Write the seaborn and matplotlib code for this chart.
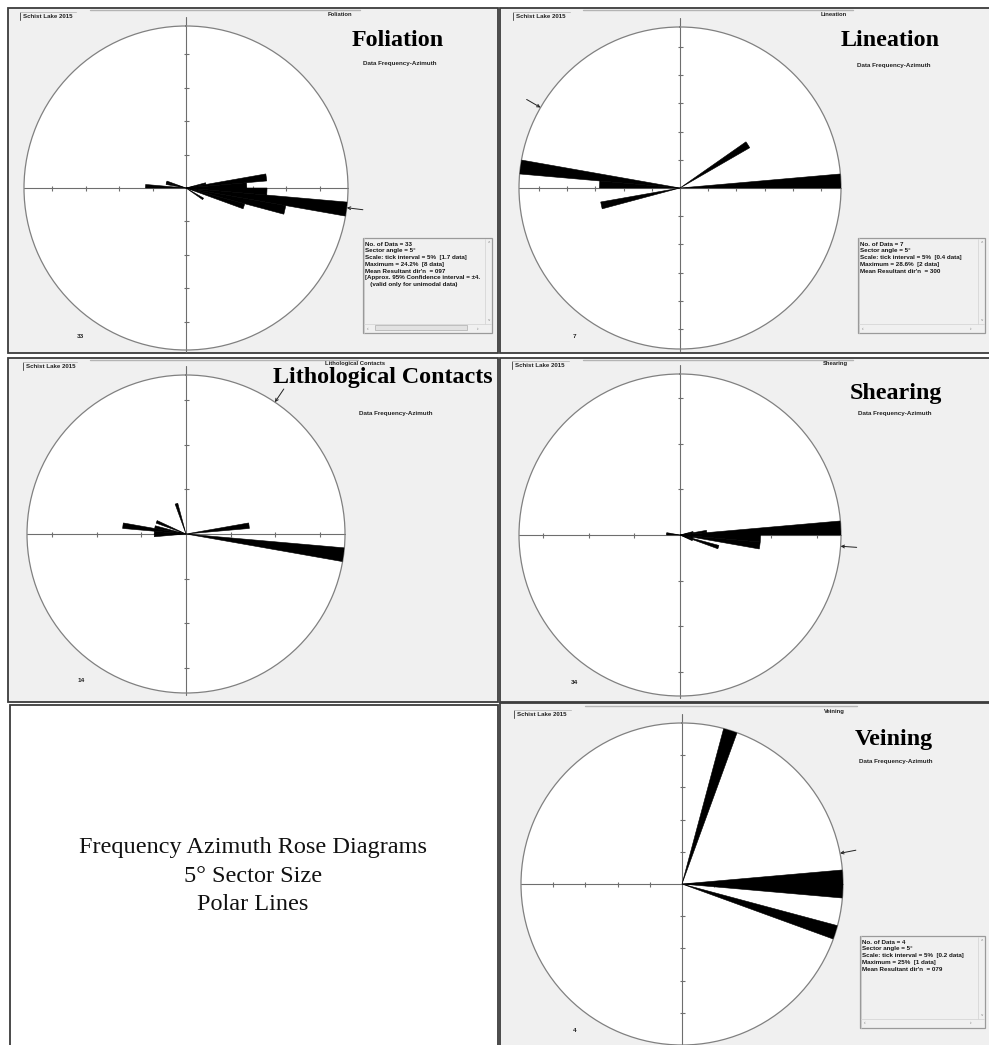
import numpy as np
from decimal import Decimal, ROUND_HALF_UP
import matplotlib
matplotlib.use("Agg")
import matplotlib.pyplot as plt
from matplotlib.patches import Rectangle
from matplotlib.lines import Line2D
import seaborn as sns

sns.set_theme(style="white")
plt.rcParams["font.family"] = ["Liberation Sans", "DejaVu Sans"]

# ---------------------------------------------------------------------------
# Data: 5-degree azimuth sectors (start azimuth) and the number of readings
# ---------------------------------------------------------------------------
foliation_sectors = [75, 80, 85, 90, 95, 100, 105, 120, 270, 280, 285]
foliation_counts = [1, 4, 3, 4, 8, 5, 3, 1, 2, 1, 1]
foliation_mean_dir = 97

lineation_sectors = [55, 85, 255, 270, 275]
lineation_counts = [1, 2, 1, 1, 2]
lineation_mean_dir = 300

contacts_sectors = [80, 95, 265, 270, 275, 280, 290, 340]
contacts_counts = [2, 5, 1, 1, 2, 1, 1, 1]
contacts_mean_dir = 34

shearing_sectors = [75, 80, 85, 90, 95, 100, 105, 110, 270, 275]
shearing_counts = [1, 2, 12, 6, 6, 1, 3, 1, 1, 1]
shearing_mean_dir = 94

veining_sectors = [15, 85, 90, 105]
veining_counts = [1, 1, 1, 1]
veining_mean_dir = 79

panel_names = ["Foliation", "Lineation", "Lithological Contacts", "Shearing", "Veining"]
tick_intervals = [5, 5, 10, 10, 5]
project_label = "Schist Lake 2015"
subtitle = "Data Frequency-Azimuth"
sector_size = 5
legend_lines = ["Frequency Azimuth Rose Diagrams", "5\u00b0 Sector Size", "Polar Lines"]

# ---------------------------------------------------------------------------
W, H = 989, 1045
fig = plt.figure(figsize=(W / 100, H / 100), dpi=100)
fig.patch.set_facecolor("white")

BG = "#f0f0f0"
AXIS = "#6e6e6e"


def fx(x):
    return x / W


def fy(y):
    return 1 - y / H


def rect(x0, y0, x1, y1, fc, ec, lw, z=-5):
    fig.add_artist(Rectangle((fx(x0), fy(y1)), (x1 - x0) / W, (y1 - y0) / H,
                             transform=fig.transFigure, facecolor=fc,
                             edgecolor=ec, linewidth=lw, zorder=z))


def hline(x0, x1, y, color, lw=0.8, z=-1):
    fig.add_artist(Line2D([fx(x0), fx(x1)], [fy(y), fy(y)], transform=fig.transFigure,
                          color=color, lw=lw, zorder=z))


def vline(x, y0, y1, color, lw=0.8, z=-1):
    fig.add_artist(Line2D([fx(x), fx(x)], [fy(y0), fy(y1)], transform=fig.transFigure,
                          color=color, lw=lw, zorder=z))


def ftext(x, y, s, **kw):
    kw.setdefault("ha", "center")
    kw.setdefault("va", "center")
    fig.text(fx(x), fy(y), s, **kw)


def half_up(value, places=1):
    q = Decimal(1).scaleb(-places)
    return str(Decimal(value).quantize(q, rounding=ROUND_HALF_UP))


def rose(cx, cy, r, sectors, counts, tick, mean_dir):
    ax = fig.add_axes([fx(cx - r), fy(cy + r), 2 * r / W, 2 * r / H], projection="polar")
    ax.set_theta_zero_location("N")
    ax.set_theta_direction(-1)
    ax.set_facecolor("white")
    n = sum(counts)
    pct = np.array(counts, dtype=float) / n * 100
    rmax = pct.max()

    # cross-hair axes with tick marks every tick interval
    kw = dict(color=AXIS, lw=0.8, clip_on=False, zorder=1)
    ax.plot([0, 0], [0, rmax * 1.055], **kw)
    ax.plot([np.pi, np.pi], [0, rmax * 1.01], **kw)
    ax.plot([np.pi / 2, np.pi / 2], [0, rmax], **kw)
    ax.plot([1.5 * np.pi, 1.5 * np.pi], [0, rmax], **kw)
    ks = np.arange(tick, rmax - 1e-9, tick)
    for th, mk in [(0, "_"), (np.pi, "_"), (np.pi / 2, "|"), (1.5 * np.pi, "|")]:
        ax.plot(np.full(len(ks), th), ks, ls="none", marker=mk, ms=3.6, mew=0.8,
                color=AXIS, zorder=1, clip_on=False)

    # sector bars
    theta = np.deg2rad(np.array(sectors) + sector_size / 2)
    ax.bar(theta, pct, width=np.deg2rad(sector_size), color="black",
           edgecolor="black", linewidth=0.4, zorder=3)

    # mean resultant direction marker
    th = np.deg2rad(mean_dir)
    ax.annotate("", xy=(th, rmax * 1.0), xytext=(th, rmax * 1.1),
                arrowprops=dict(arrowstyle="->", color="#222222", lw=0.7,
                                mutation_scale=5, shrinkA=0, shrinkB=0),
                annotation_clip=False, zorder=4)

    ax.set_ylim(0, rmax)
    ax.set_xticks([])
    ax.set_yticks([])
    ax.grid(False)
    ax.spines["polar"].set_edgecolor("#808080")
    ax.spines["polar"].set_linewidth(0.9)
    return n, rmax


def stats_box(x0, y0, x1, y1, lines, hscroll):
    rect(x0, y0, x1, y1, BG, "#9a9a9a", 0.9, z=-2)
    vline(x0 + 1, y0, y1, "#c8c8c8", 0.6)
    vline(x1 - 7, y0 + 1, y1 - 9, "#d6d6d6", 0.6)
    hline(x0 + 1, x1 - 1, y1 - 9, "#d6d6d6", 0.6)
    ftext(x1 - 3.5, y0 + 4, "\u02c4", fontsize=3, color="#777777")
    ftext(x1 - 3.5, y1 - 13, "\u02c5", fontsize=3, color="#777777")
    ftext(x0 + 5, y1 - 5, "\u2039", fontsize=3.5, color="#777777")
    ftext(x1 - 14, y1 - 5, "\u203a", fontsize=3.5, color="#777777")
    if hscroll:
        rect(x0 + 12, y1 - 8, x1 - 25, y1 - 3, "#e2e2e2", "#b8b8b8", 0.6, z=-1)
    for i, s in enumerate(lines):
        ftext(x0 + 2, y0 + 6 + i * 6.8, s, ha="left", fontsize=4.5, fontweight="bold",
              color="#151515")


# ---------------------------------------------------------------------------
# Panel layout (pixel positions)
layouts = [
    dict(frame=(8, 8, 498, 353), c=(186, 188, 162), title_xy=(398, 41), sub_xy=(400, 64),
         small_xy=(340, 14), tag=(20, 12, 76, 20), n_xy=(80, 336), tab=(90, 360, 10),
         stats=(363, 238, 492, 333), hscroll=True, conf=True),
    dict(frame=(500, 8, 1000, 353), c=(680, 188, 161), title_xy=(890, 40), sub_xy=(894, 65),
         small_xy=(834, 14), tag=(513, 12, 570, 20), n_xy=(574, 336), tab=(583, 853, 10),
         stats=(858, 238, 985, 333), hscroll=False, conf=False),
    dict(frame=(8, 358, 498, 702), c=(186, 534, 159), title_xy=(383, 378), sub_xy=(396, 413),
         small_xy=(355, 363), tag=(23, 362, 77, 370), n_xy=(81, 681), tab=(90, 358, 360),
         stats=None),
    dict(frame=(500, 358, 1000, 702), c=(680, 535, 161), title_xy=(896, 393), sub_xy=(895, 413),
         small_xy=(835, 363), tag=(512, 361, 569, 369), n_xy=(574, 683), tab=(583, 853, 360),
         stats=None),
    dict(frame=(500, 703, 1000, 1050), c=(682, 884, 161), title_xy=(894, 739), sub_xy=(896, 762),
         small_xy=(834, 712), tag=(514, 710, 571, 718), n_xy=(575, 1031), tab=(585, 857, 706),
         stats=(860, 936, 985, 1028), hscroll=False, conf=False),
]

datasets = [
    (foliation_sectors, foliation_counts, foliation_mean_dir),
    (lineation_sectors, lineation_counts, lineation_mean_dir),
    (contacts_sectors, contacts_counts, contacts_mean_dir),
    (shearing_sectors, shearing_counts, shearing_mean_dir),
    (veining_sectors, veining_counts, veining_mean_dir),
]

for name, tick, lay, (sectors, counts, mean_dir) in zip(panel_names, tick_intervals, layouts, datasets):
    x0, y0, x1, y1 = lay["frame"]
    rect(x0, y0, x1, y1, BG, "#3c3c3c", 1.3, z=-5)
    tx0, tx1, ty = lay["tab"]
    hline(tx0, tx1, ty, "#b4b4b4", 1.0)

    # project tag
    gx0, gy0, gx1, gy1 = lay["tag"]
    vline(gx0, gy0, gy1, "#555555", 0.7)
    hline(gx0, gx1, gy0, "#c0c0c0", 0.7)
    ftext(gx0 + 3, (gy0 + gy1) / 2 + 0.5, project_label, ha="left", fontsize=4.4,
          fontweight="bold", color="#222222")

    ftext(*lay["small_xy"], name, fontsize=4.2, fontweight="bold", color="#222222")
    ftext(*lay["title_xy"], name, fontsize=17.3, fontweight="bold",
          family=["Liberation Serif", "DejaVu Serif"], color="black")
    ftext(*lay["sub_xy"], subtitle, fontsize=4.5, fontweight="bold", color="#222222")

    cx, cy, r = lay["c"]
    n, rmax = rose(cx, cy, r, sectors, counts, tick, mean_dir)
    ftext(*lay["n_xy"], str(n), fontsize=4.6, fontweight="bold", color="#222222")

    if lay["stats"] is not None:
        max_count = max(counts)
        max_pct = float(half_up(max_count / n * 100, 1))
        lines = [
            f"No. of Data = {n}",
            f"Sector angle = {sector_size}\u00b0",
            f"Scale: tick interval = {tick}%  [{half_up(Decimal(tick * n) / Decimal(100), 1)} data]",
            f"Maximum = {max_pct:g}%  [{max_count} data]",
            f"Mean Resultant dir'n  = {mean_dir:03d}",
        ]
        if lay["conf"]:
            lines += ["[Approx. 95% Confidence interval = \u00b14.",
                      "   (valid only for unimodal data)"]
        stats_box(*lay["stats"], lines, lay["hscroll"])

# explanatory panel
rect(10, 705, 498, 1050, "white", "#3c3c3c", 1.3, z=-5)
for i, s in enumerate(legend_lines):
    ftext(253, 848 + i * 28, s, fontsize=17.5, family=["Liberation Serif", "DejaVu Serif"],
          color="#111111")

fig.savefig("out.png", dpi=100, facecolor="white")
